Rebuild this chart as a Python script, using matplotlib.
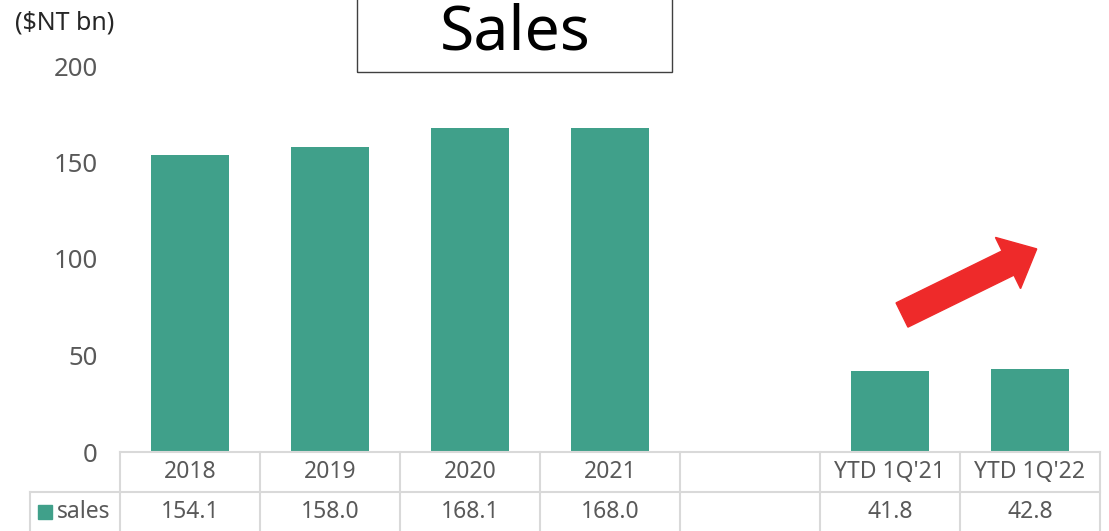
import matplotlib.pyplot as plt
import matplotlib.patches as patches
from matplotlib.transforms import IdentityTransform, blended_transform_factory

# data
categories = ['2018', '2019', '2020', '2021', '', "YTD 1Q'21", "YTD 1Q'22"]
sales = [154.1, 158.0, 168.1, 168.0, None, 41.8, 42.8]
series_name = 'sales'
y_ticks = [0, 50, 100, 150, 200]

bar_color = '#40A08A'
grid_color = '#D9D9D9'
text_color = '#595959'
plt.rcParams['font.family'] = ['Noto Sans', 'DejaVu Sans']

W, H = 1109, 531
fig = plt.figure(figsize=(W / 100, H / 100), dpi=100)
ax = fig.add_axes([120 / W, (H - 452) / H, 980 / W, (452 - 66) / H])

xs = list(range(len(categories)))
for x, v in zip(xs, sales):
    if v is not None:
        ax.bar(x, v, width=0.56, color=bar_color, zorder=2)

ax.set_xlim(-0.5, len(categories) - 0.5)
ax.set_ylim(0, 200)
ax.set_yticks(y_ticks)
ax.set_yticklabels([str(t) for t in y_ticks], fontsize=18.5, color=text_color)
ax.tick_params(axis='y', length=0, pad=16)
ax.set_xticks([])
for s in ax.spines.values():
    s.set_visible(False)

# data table below the axis
tr = blended_transform_factory(ax.transData, ax.transAxes)
row_h = 40 / (452 - 66)
lw = 1.5
ax.plot([-0.5, len(categories) - 0.5], [0, 0], color=grid_color, lw=lw,
        transform=tr, clip_on=False)
ax.plot([-0.5 - 90 / 140, len(categories) - 0.5], [-row_h, -row_h], color=grid_color,
        lw=lw, transform=tr, clip_on=False)
ax.plot([-0.5 - 90 / 140, -0.5 - 90 / 140], [-row_h, -2.2 * row_h], color=grid_color,
        lw=lw, transform=tr, clip_on=False)
for i in range(len(categories) + 1):
    ax.plot([i - 0.5, i - 0.5], [0, -2.2 * row_h], color=grid_color, lw=lw,
            transform=tr, clip_on=False)
for x, c, v in zip(xs, categories, sales):
    ax.text(x, -0.5 * row_h, c, transform=tr, ha='center', va='center',
            fontsize=16.5, color=text_color)
    if v is not None:
        ax.text(x, -1.5 * row_h, f'{v:.1f}', transform=tr, ha='center', va='center',
                fontsize=16.5, color=text_color)
# legend key + series label
ax.add_patch(patches.Rectangle((-0.5 - 82 / 140, -1.5 * row_h - 0.019), 14 / 140, 0.038,
                               transform=tr, color=bar_color, clip_on=False))
ax.text(-0.5 - 63 / 140, -1.5 * row_h, series_name, transform=tr, ha='left',
        va='center', fontsize=16.5, color=text_color)

# unit label
fig.text(15 / W, 1 - 23 / H, '($NT bn)', fontsize=18, color='#262626', va='center')

# title box
fig.patches.append(patches.Rectangle((357 / W, 1 - 72 / H), 315 / W, 80 / H,
                                     transform=fig.transFigure, fill=False,
                                     edgecolor='#404040', lw=1))
fig.text(515 / W, 1 - 50 / H, 'Sales', fontsize=45, color='black',
         ha='center', va='baseline')

# red arrow
fig.patches.append(patches.FancyArrow(902, H - 315, 106, 52, width=27,
                                      head_width=57, head_length=32,
                                      length_includes_head=False,
                                      color='#EE2A2A', transform=IdentityTransform()))

fig.savefig('out.png', dpi=100)
